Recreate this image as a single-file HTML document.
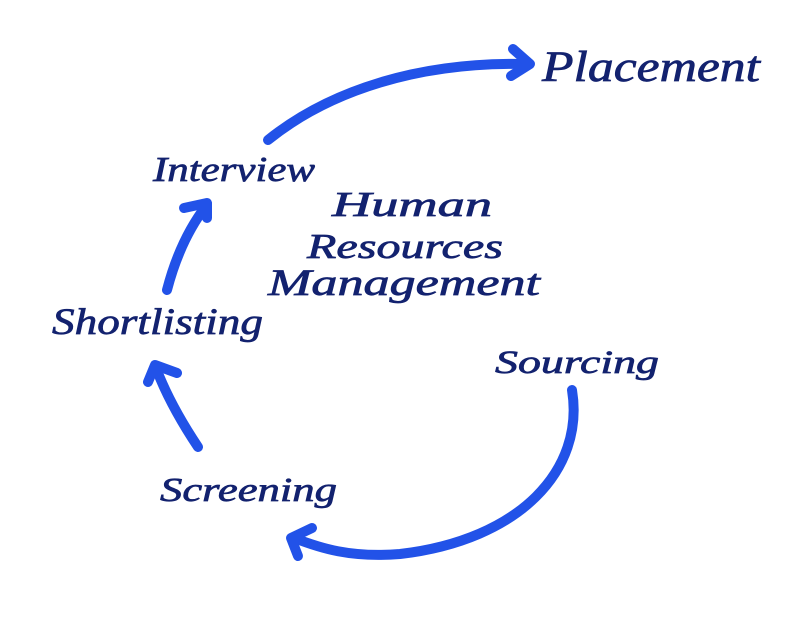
<!DOCTYPE html>
<html>
<head>
<meta charset="utf-8">
<style>
html,body{margin:0;padding:0;background:#fff;}
svg{display:block;}
text{font-family:"Liberation Serif","DejaVu Serif",serif;font-style:italic;fill:#13226f;stroke:#13226f;stroke-width:0.7;}
</style>
</head>
<body>
<svg width="800" height="622" viewBox="0 0 800 622" xmlns="http://www.w3.org/2000/svg">
<rect width="800" height="622" fill="#fff"/>
<g fill="none" stroke="#2252e8" stroke-width="10" stroke-linecap="round" stroke-linejoin="round">
  <path d="M268,140 C330,90 420,62 524,64"/>
  <path d="M513,49 L530,64 L511,76"/>
  <path d="M167,290 Q180,240 206,206"/>
  <path d="M184,208 L207,203 L207,218"/>
  <path d="M198,447 Q170,405 156,368"/>
  <path d="M177,373 L155,365 L148,382"/>
  <path d="M572,390 C585,470 520,540 400,554 C350,558 320,548 294,538"/>
  <path d="M312,528 L291,538 L298,556"/>
</g>
<text x="542" y="81" font-size="43" textLength="218" lengthAdjust="spacingAndGlyphs">Placement</text>
<text x="153" y="181" font-size="35" textLength="162" lengthAdjust="spacingAndGlyphs">Interview</text>
<text x="332" y="216" font-size="35" textLength="160" lengthAdjust="spacingAndGlyphs">Human</text>
<text x="307" y="258" font-size="35" textLength="196" lengthAdjust="spacingAndGlyphs">Resources</text>
<text x="268" y="295" font-size="37" textLength="272" lengthAdjust="spacingAndGlyphs">Management</text>
<text x="52" y="334" font-size="37" textLength="211" lengthAdjust="spacingAndGlyphs">Shortlisting</text>
<text x="495" y="373" font-size="33" textLength="164" lengthAdjust="spacingAndGlyphs">Sourcing</text>
<text x="160" y="501" font-size="34" textLength="177" lengthAdjust="spacingAndGlyphs">Screening</text>
</svg>
</body>
</html>
